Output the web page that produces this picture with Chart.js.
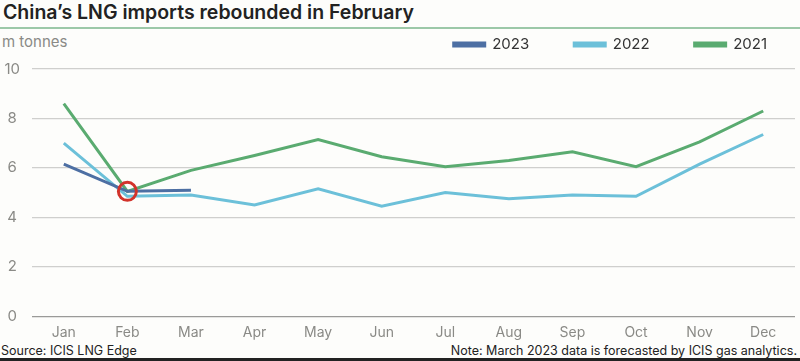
<!DOCTYPE html>
<html>
<head>
<meta charset="utf-8">
<script src="https://cdn.jsdelivr.net/npm/chart.js@4/dist/chart.umd.min.js"></script>
<style>
  body { margin: 0; background: #fdfdfb; }
  #wrap { position: relative; width: 800px; height: 361px; overflow: hidden; background: #fdfdfb; font-family: Inter, "Open Sans", sans-serif; }
  #title { position: absolute; left: 3px; top: 0px; font-size: 19.5px; font-weight: 600; color: #222; }
  #rule { position: absolute; left: 0; top: 27px; width: 800px; height: 2px; background: #9cc8a8; }
  #unit { position: absolute; left: 2px; top: 32px; font-size: 15px; color: #8a8a86; }
  #chartBox { position: absolute; left: 0; top: -8px; width: 800px; height: 349px; }
  #source { position: absolute; left: 1px; top: 343px; font-size: 12.5px; color: #222; }
  #note { position: absolute; right: 3px; top: 343px; font-size: 12.5px; color: #222; }
  #bottom { position: absolute; left: 0; top: 358px; width: 800px; height: 3px; background: #222; }
</style>
</head>
<body>
<div id="wrap">
  <div id="title">China’s LNG imports rebounded in February</div>
  <div id="rule"></div>
  <div id="unit">m tonnes</div>
  <div id="chartBox"><canvas id="lngChart" width="800" height="349"></canvas></div>
  <div id="source">Source: ICIS LNG Edge</div>
  <div id="note">Note: March 2023 data is forecasted by ICIS gas analytics.</div>
  <div id="bottom"></div>
</div>
<script>
const months = ["Jan", "Feb", "Mar", "Apr", "May", "Jun", "Jul", "Aug", "Sep", "Oct", "Nov", "Dec"];
const imports2023 = [6.15, 5.05, 5.1];
const imports2022 = [7.0, 4.85, 4.9, 4.5, 5.15, 4.45, 5.0, 4.75, 4.9, 4.85, 6.15, 7.35];
const imports2021 = [8.6, 5.05, 5.9, 6.5, 7.15, 6.45, 6.05, 6.3, 6.65, 6.05, 7.05, 8.3];
const yTicks = [0, 2, 4, 6, 8, 10];

// red ring on Feb 2023
const ringRadius = imports2023.map((v, i) => (i === 1 ? 9 : 0));

// extra gap under the legend, and nudge it to the right edge
const legendTweak = {
    id: "legendTweak",
    beforeInit(chart) {
        const fit = chart.legend.fit;
        chart.legend.fit = function () {
            fit.bind(chart.legend)();
            this.height += 7;
        };
    },
    afterLayout(chart) {
        chart.legend.left += 17;
        chart.legend.right += 17;
    },
};

const ctx = document.getElementById("lngChart").getContext("2d");
new Chart(ctx, {
    type: "line",
    data: {
        labels: months,
        datasets: [
            {
                label: "2023",
                data: imports2023,
                borderColor: "#4d6fa3",
                backgroundColor: "#4d6fa3",
                borderWidth: 3,
                pointRadius: ringRadius,
                pointBorderColor: "#d2332b",
                pointBorderWidth: 3,
                pointBackgroundColor: "rgba(0,0,0,0)",
            },
            {
                label: "2022",
                data: imports2022,
                borderColor: "#6cc0d9",
                backgroundColor: "#6cc0d9",
                borderWidth: 3,
                pointRadius: 0,
            },
            {
                label: "2021",
                data: imports2021,
                borderColor: "#5aab70",
                backgroundColor: "#5aab70",
                borderWidth: 3,
                pointRadius: 0,
            },
        ],
    },
    options: {
        responsive: false,
        animation: false,
        layout: { padding: { left: 0, right: 5, top: 0, bottom: 0 } },
        plugins: {
            legend: {
                position: "top",
                align: "end",
                labels: {
                    boxWidth: 31,
                    boxHeight: 3,
                    padding: 45,
                    color: "#333",
                    font: { family: "Inter, 'Open Sans', sans-serif", size: 15 },
                },
            },
            tooltip: { enabled: false },
        },
        scales: {
            x: {
                offset: true,
                grid: { display: false },
                border: { display: false },
                ticks: { color: "#8a8a86", font: { family: "Inter, 'Open Sans', sans-serif", size: 14 }, padding: 0 },
            },
            y: {
                min: 0,
                max: 10,
                afterBuildTicks: (axis) => { axis.ticks = yTicks.map((v) => ({ value: v })); },
                afterFit: (axis) => { axis.width = 32; },
                grid: { color: (c) => (c.tick.value === 0 ? "#9a9a98" : "#cfcfcd"), lineWidth: 1.2, drawTicks: false },
                border: { display: false },
                ticks: { color: "#8a8a86", font: { family: "Inter, 'Open Sans', sans-serif", size: 15 }, padding: 12, crossAlign: "center" },
            },
        },
    },
    plugins: [legendTweak],
});
</script>
</body>
</html>
